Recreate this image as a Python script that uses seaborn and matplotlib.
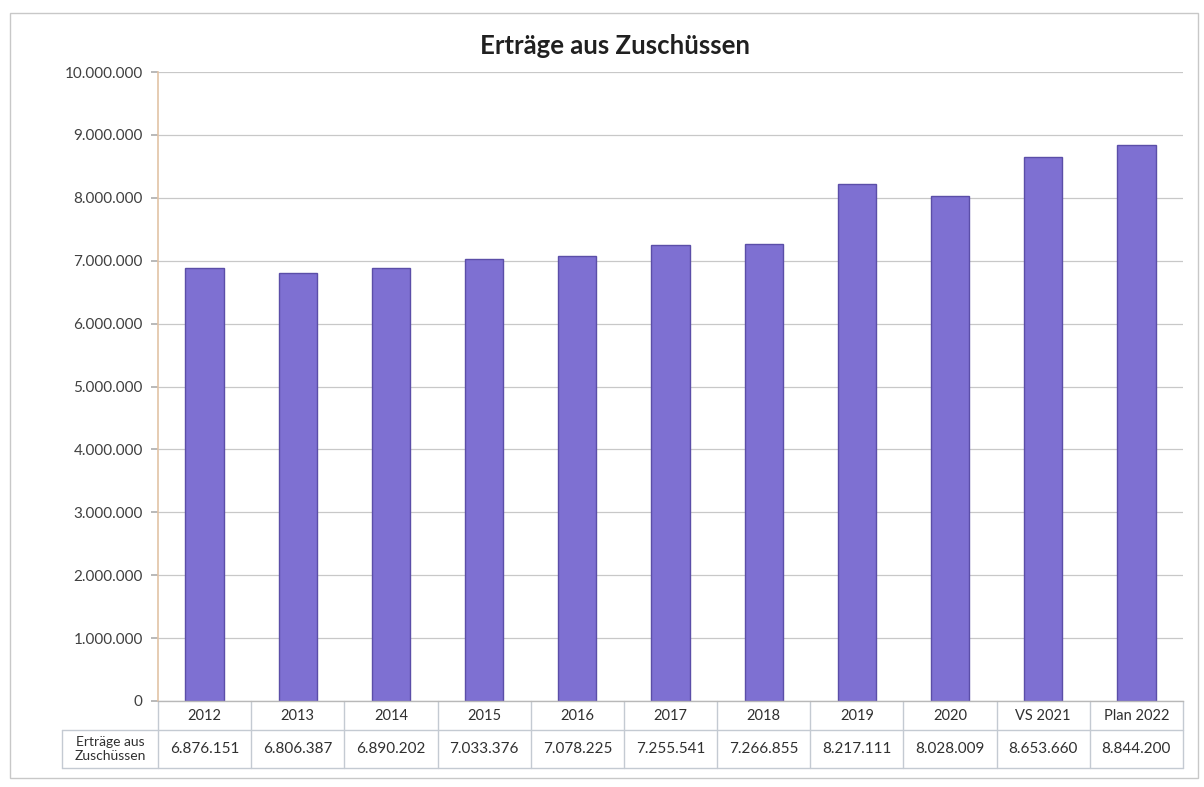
import matplotlib
matplotlib.use("Agg")
import matplotlib.pyplot as plt
import seaborn as sns
import pandas as pd
from matplotlib.ticker import FuncFormatter

categories = ["2012", "2013", "2014", "2015", "2016", "2017", "2018", "2019", "2020", "VS 2021", "Plan 2022"]
values = [6876151, 6806387, 6890202, 7033376, 7078225, 7255541, 7266855, 8217111, 8028009, 8653660, 8844200]
value_labels = ["6.876.151", "6.806.387", "6.890.202", "7.033.376", "7.078.225", "7.255.541",
                "7.266.855", "8.217.111", "8.028.009", "8.653.660", "8.844.200"]
row_label = "Erträge aus\nZuschüssen"
title = "Erträge aus Zuschüssen"
y_ticks = list(range(0, 10000001, 1000000))

sns.set_theme(style="white")
plt.rcParams['font.family'] = ['Lato', 'DejaVu Sans']

df = pd.DataFrame({"cat": categories, "val": values})

fig = plt.figure(figsize=(12.04, 7.87), dpi=100)
ax = fig.add_axes([158/1204, 1-701/787, (1183-158)/1204, (701-72)/787])

sns.barplot(data=df, x="cat", y="val", ax=ax, color="#7e70d2", width=0.41,
            edgecolor="#5b4ea8", linewidth=1.0, saturation=1)

ax.set_ylim(0, 10000000)
ax.set_xlim(-0.5, len(categories)-0.5)
ax.set_yticks(y_ticks)
ax.yaxis.set_major_formatter(FuncFormatter(lambda v, p: f"{int(v):,}".replace(",", ".")))
ax.tick_params(axis="y", labelsize=11, labelcolor="#404040", length=5, color="#b0b0b0", left=True, pad=6)
ax.set_xticks([])
ax.set_xlabel("")
ax.set_ylabel("")
ax.yaxis.grid(True, color="#c8c8c8", linewidth=0.9)
ax.set_axisbelow(True)
for s in ["top", "right"]:
    ax.spines[s].set_visible(False)
ax.spines["left"].set_color("#e2c3a6")
ax.spines["left"].set_linewidth(1.2)
ax.spines["bottom"].set_color("#b8b8b8")
ax.spines["bottom"].set_linewidth(1.0)

# data table below the axes
h_px = 701 - 72
y_head = -29 / h_px
y_bot = -67 / h_px
x_left_label = (62 - 158) / (1183 - 158) * len(categories) - 0.5
line_c = "#c4cad2"
trans = ax.get_xaxis_transform()
n = len(categories)
ax.plot([x_left_label, n-0.5], [y_head, y_head], transform=trans, color=line_c, lw=1, clip_on=False)
ax.plot([x_left_label, n-0.5], [y_bot, y_bot], transform=trans, color=line_c, lw=1, clip_on=False)
for k in range(n+1):
    ax.plot([k-0.5, k-0.5], [0, y_bot], transform=trans, color=line_c, lw=1, clip_on=False)
ax.plot([x_left_label, x_left_label], [y_head, y_bot], transform=trans, color=line_c, lw=1, clip_on=False)

for i, (c, v) in enumerate(zip(categories, value_labels)):
    ax.text(i, y_head/2, c, transform=trans, ha="center", va="center", fontsize=10.5, color="#303030")
    ax.text(i, (y_head+y_bot)/2, v, transform=trans, ha="center", va="center", fontsize=11, color="#303030")
ax.text((x_left_label-0.5)/2, (y_head+y_bot)/2, row_label, transform=trans, ha="center", va="center",
        fontsize=10, color="#303030", linespacing=1.3)

fig.text(615/1204, 1-46/787, title, ha="center", va="center", fontsize=18.5, fontweight="bold", color="#202020")

# outer chart border
fig.add_artist(plt.Rectangle((10/1204, 1-778/787), (1198-10)/1204, (778-13)/787,
                             transform=fig.transFigure, fill=False, edgecolor="#c8c8c8", lw=1))

fig.savefig("out.png", dpi=100)
